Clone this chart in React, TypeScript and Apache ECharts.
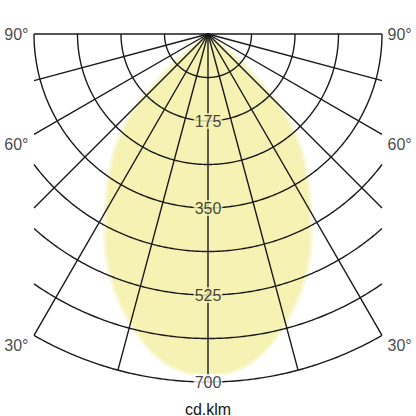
import { useEffect, useRef } from 'react';
import * as echarts from 'echarts';

// Light distribution (cd/klm), symmetric about nadir
const CURVE_ANGLES = [0, 5, 10, 15, 20, 25, 30, 35, 40, 45, 50, 55, 60];
const CURVE_CD = [687, 679, 650, 603, 549, 487, 414, 348, 285, 205, 90, 12, 0];

// Grid
const RING_VALUES = [87.5, 175, 262.5, 350, 437.5, 525, 612.5, 700];
const RING_LABEL_VALUES = [175, 350, 525, 700];
const RING_LABELS = ['175', '350', '525', '700'];
const SPOKE_ANGLES = [-75, -60, -45, -30, -15, 0, 15, 30, 45, 60, 75];
const SIDE_ANGLES = [90, 60, 30];
const SIDE_LABELS = ['90°', '60°', '30°'];

const MAX_CD = 700;
const HALF_WIDTH = 350;
const UNIT = 'cd.klm';

const FONT = '"Liberation Sans", Arial, sans-serif';
const LINE = '#1a1a1a';
const TEXT = '#151515';
const FILL = '#f6f2b4';
const FILL_EDGE = '#f9f7d4';

const rad = (d: number) => (d * Math.PI) / 180;
const toXY = (angle: number, cd: number): [number, number] => [
  cd * Math.sin(rad(angle)),
  -cd * Math.cos(rad(angle)),
];

function curvePoints() {
  const pts: [number, number][] = [];
  for (let i = CURVE_ANGLES.length - 1; i > 0; i--) pts.push(toXY(-CURVE_ANGLES[i], CURVE_CD[i]));
  for (let i = 0; i < CURVE_ANGLES.length; i++) pts.push(toXY(CURVE_ANGLES[i], CURVE_CD[i]));
  const out: [number, number][] = [];
  pts.forEach((p) => {
    const last = out[out.length - 1];
    if (!last || Math.hypot(last[0] - p[0], last[1] - p[1]) > 0.01) out.push(p);
  });
  const first = out[0];
  const last = out[out.length - 1];
  if (Math.hypot(first[0] - last[0], first[1] - last[1]) < 0.01) out.pop();
  return out;
}

function ringPoints(r: number) {
  const a = r > HALF_WIDTH ? (Math.asin(HALF_WIDTH / r) * 180) / Math.PI : 90;
  const pts: [number, number][] = [];
  const steps = Math.ceil(a * 2);
  for (let i = 0; i <= steps * 2; i++) {
    const t = -a + (i * a) / steps;
    pts.push(toXY(t, r));
  }
  return pts;
}

function spokeEnd(angle: number): [number, number] {
  const s = Math.abs(Math.sin(rad(angle)));
  const r = s > 0 ? Math.min(MAX_CD, HALF_WIDTH / s) : MAX_CD;
  return toXY(angle, r);
}

export default function App() {
  const ref = useRef<HTMLDivElement>(null);

  useEffect(() => {
    if (!ref.current) return;
    const chart = echarts.init(ref.current, undefined, { renderer: 'svg' });
    const curve = curvePoints();
    const centerCd = CURVE_CD[0];

    chart.setOption({
      animation: false,
      backgroundColor: '#ffffff',
      title: {
        text: UNIT,
        left: 'center',
        top: 396,
        textStyle: { fontSize: 16, fontWeight: 'normal', color: TEXT, fontFamily: FONT },
      },
      grid: { left: 34, top: 34, width: 348, height: 348 },
      xAxis: { type: 'value', min: -HALF_WIDTH, max: HALF_WIDTH, show: false },
      yAxis: { type: 'value', min: -MAX_CD, max: 0, show: false },
      series: [
        {
          type: 'custom',
          z: 1,
          clip: false,
          data: [[0, 0]],
          renderItem: (_p: any, api: any) => ({
            type: 'polygon',
            shape: { points: curve.map((p) => api.coord(p)), smooth: 0.35 },
            style: { fill: FILL, stroke: FILL_EDGE, lineWidth: 3 },
          }),
        },
        {
          type: 'custom',
          z: 2,
          clip: false,
          data: [[0, 0]],
          renderItem: (_p: any, api: any) => {
            const children: any[] = [];
            RING_VALUES.forEach((r) => {
              children.push({
                type: 'polyline',
                shape: { points: ringPoints(r).map((p) => api.coord(p)) },
                style: { stroke: LINE, lineWidth: 1.4, fill: 'none' },
              });
            });
            SPOKE_ANGLES.forEach((a) => {
              const o = api.coord([0, 0]);
              const e = api.coord(spokeEnd(a));
              children.push({
                type: 'line',
                shape: { x1: o[0], y1: o[1], x2: e[0], y2: e[1] },
                style: { stroke: LINE, lineWidth: 1.4 },
              });
            });
            const l = api.coord([-HALF_WIDTH, 0]);
            const rr = api.coord([HALF_WIDTH, 0]);
            children.push({
              type: 'line',
              shape: { x1: l[0], y1: l[1], x2: rr[0], y2: rr[1] },
              style: { stroke: LINE, lineWidth: 1.4 },
            });
            return { type: 'group', children };
          },
        },
        {
          type: 'scatter',
          z: 3,
          symbolSize: 1,
          itemStyle: { color: 'transparent' },
          data: RING_LABEL_VALUES.map((v, i) => ({
            value: [0, -v],
            label: {
              show: true,
              position: 'inside',
              formatter: RING_LABELS[i],
              fontSize: 16,
              fontFamily: FONT,
              color: TEXT,
              backgroundColor: v < centerCd ? FILL : '#ffffff',
              padding: [0, 1],
            },
          })),
        },
        {
          type: 'scatter',
          z: 3,
          symbolSize: 1,
          itemStyle: { color: 'transparent' },
          data: SIDE_ANGLES.flatMap((a, i) => {
            const y = a === 90 ? 0 : -HALF_WIDTH / Math.tan(rad(a));
            const dy = a === 90 ? 0 : 10;
            return [-1, 1].map((side) => ({
              value: [side * HALF_WIDTH, y],
              label: {
                show: true,
                position: side < 0 ? 'left' : 'right',
                distance: 5,
                offset: [0, dy],
                formatter: SIDE_LABELS[i],
                fontSize: 16,
                fontFamily: FONT,
                color: TEXT,
              },
            }));
          }),
        },
      ],
    });

    return () => chart.dispose();
  }, []);

  return (
    <div
      ref={ref}
      style={{ position: 'fixed', left: 0, top: 0, width: 416, height: 416 }}
    />
  );
}
